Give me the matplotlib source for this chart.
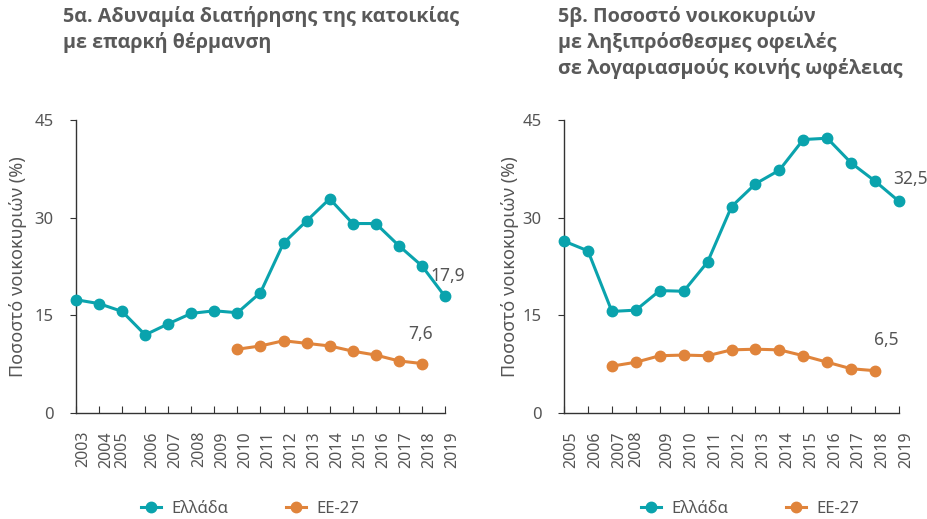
import matplotlib
matplotlib.use('Agg')
import matplotlib.pyplot as plt
import matplotlib.transforms as mtransforms
from matplotlib.lines import Line2D

# Data
years_a = list(range(2003, 2020))
greece_a = [17.4, 16.8, 15.6, 12.0, 13.7, 15.3, 15.7, 15.4, 18.5, 26.1, 29.5,
            32.9, 29.1, 29.1, 25.7, 22.6, 17.9]
eu_years_a = list(range(2010, 2019))
eu_a = [9.8, 10.3, 11.1, 10.7, 10.3, 9.5, 8.9, 8.0, 7.6]

years_b = list(range(2005, 2020))
greece_b = [26.4, 24.9, 15.6, 15.8, 18.8, 18.7, 23.2, 31.7, 35.2, 37.3, 42.0,
            42.2, 38.4, 35.6, 32.5]
eu_years_b = list(range(2007, 2019))
eu_b = [7.2, 7.8, 8.8, 8.9, 8.8, 9.7, 9.8, 9.7, 8.8, 7.8, 6.8, 6.5]

title_a = "5α. Αδυναμία διατήρησης της κατοικίας\nμε επαρκή θέρμανση"
title_b = "5β. Ποσοστό νοικοκυριών\nμε ληξιπρόσθεσμες οφειλές\nσε λογαριασμούς κοινής ωφέλειας"
ylabel = "Ποσοστό νοικοκυριών (%)"

TEAL = "#0aa3ad"
ORANGE = "#e0843b"
TEXT = "#555555"
TITLE = "#595959"

plt.rcParams['font.family'] = ['Noto Sans', 'DejaVu Sans']

fig = plt.figure(figsize=(9.28, 5.19), dpi=100)


def draw_panel(rect, years, greece, eu_years, eu, crowded, label_gr, label_eu,
               off_gr, off_eu, ylab_px):
    ax = fig.add_axes(rect)
    x0 = years[0]
    xg = [y - x0 for y in years]
    xe = [y - x0 for y in eu_years]
    ax.plot(xg, greece, color=TEAL, lw=2.2, marker='o', ms=7.5, clip_on=False, zorder=3)
    ax.plot(xe, eu, color=ORANGE, lw=2.2, marker='o', ms=7.5, clip_on=False, zorder=3)
    ax.set_xlim(0, len(years) - 1)
    ax.set_ylim(0, 45)
    ax.set_yticks([0, 15, 30, 45])
    ax.set_xticks(xg)
    ax.set_xticklabels([str(y) for y in years], rotation=90, fontsize=11.5, color=TEXT)
    for sp in ['top', 'right']:
        ax.spines[sp].set_visible(False)
    for sp in ['left', 'bottom']:
        ax.spines[sp].set_color('#333333')
        ax.spines[sp].set_linewidth(1.0)
    ax.tick_params(axis='x', direction='in', length=5, color='#333333', pad=13)
    ax.tick_params(axis='y', direction='out', length=4, color='#333333', pad=12,
                   labelsize=12, labelcolor=TEXT)
    ax.set_ylabel(ylabel, fontsize=13, color=TEXT, va='center')
    # place the y label at a fixed pixel column
    ax.yaxis.set_label_coords(ylab_px / 928, 0.5,
                              transform=mtransforms.blended_transform_factory(fig.transFigure, ax.transAxes))
    # shift year labels to the right of the ticks, except the crowded one
    for i, lab in enumerate(ax.get_xticklabels()):
        dx = 0 if years[i] == crowded else 7.5
        lab.set_transform(lab.get_transform() +
                          mtransforms.ScaledTranslation(dx / 100, 0, fig.dpi_scale_trans))
    ax.annotate(label_gr, (xg[-1], greece[-1]), xytext=off_gr, textcoords='offset points',
                ha='center', va='center', fontsize=12.5, color=TEXT)
    ax.annotate(label_eu, (xe[-1], eu[-1]), xytext=off_eu, textcoords='offset points',
                ha='center', va='center', fontsize=12.5, color=TEXT)
    return ax


ax_a = draw_panel([0.0819, 0.2042, 0.3976, 0.5646], years_a, greece_a, eu_years_a, eu_a,
                  2005, "17,9", "7,6", (2, 15), (-1, 21), 18)
ax_b = draw_panel([0.6078, 0.2042, 0.3610, 0.5646], years_b, greece_b, eu_years_b, eu_b,
                  2008, "32,5", "6,5", (8, 16), (8, 22), 510)

for x, title in [(63, title_a), (558, title_b)]:
    fig.text(x / 928, 1 - 6 / 519, title, ha='left', va='top', fontsize=14.2,
             fontweight='bold', color=TITLE, linespacing=1.32,
             family=['Open Sans', 'DejaVu Sans'])

handles = [Line2D([], [], color=TEAL, lw=2.2, marker='o', ms=7.5),
           Line2D([], [], color=ORANGE, lw=2.2, marker='o', ms=7.5)]
for cx in [250 / 928, 750 / 928]:
    fig.legend(handles, ["Ελλάδα", "ΕΕ-27"], loc='center', bbox_to_anchor=(cx, 1 - 509 / 519),
               ncol=2, frameon=False, fontsize=12, labelcolor=TEXT, handlelength=1.2,
               columnspacing=3.5, handletextpad=0.6)

fig.savefig("out.png", dpi=100)
